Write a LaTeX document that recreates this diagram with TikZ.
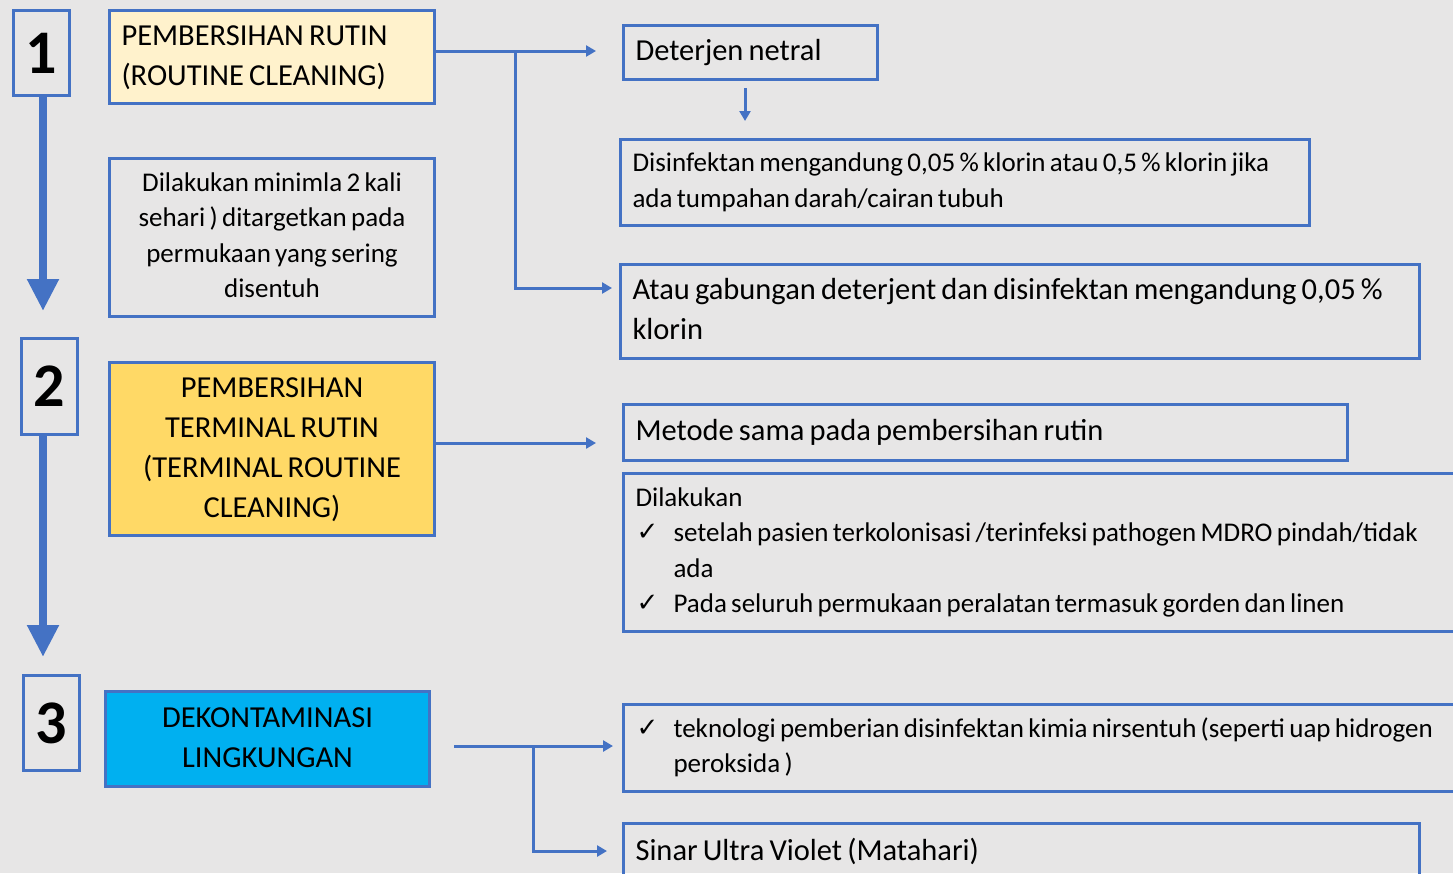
\documentclass[tikz,border=0pt]{standalone}
\usepackage{fontspec}
\setmainfont{Carlito}
\newfontfamily\symf{DejaVu Sans}
\usetikzlibrary{arrows.meta}
\definecolor{bgc}{HTML}{E7E6E6}
\definecolor{bcol}{HTML}{4472C4}
\definecolor{fillA}{HTML}{FFF2CC}
\definecolor{fillB}{HTML}{FFD966}
\definecolor{fillC}{HTML}{00B0F0}
\newcommand{\bigf}{\fontsize{30.5}{40}\selectfont\spaceskip=0.17em\relax}
\newcommand{\smallf}{\fontsize{27}{35.5}\selectfont\spaceskip=0.16em\relax}
\newcommand{\ck}{\makebox[38pt][l]{\hspace{1pt}\raisebox{1pt}{\symf\fontsize{26}{26}\selectfont ✓}}}
\tikzset{
  box/.style={draw=bcol, line width=3pt, anchor=north west, inner xsep=12pt, inner ysep=0pt},
  numbox/.style={box, inner xsep=0pt, font=\bfseries\fontsize{62}{62}\selectfont},
  bigarrow/.style={draw=bcol, line width=8pt, -{Triangle[width=30pt,length=32pt]}},
  conn/.style={draw=bcol, line width=3pt, -{Triangle[width=11pt,length=10pt]}}
}
\begin{document}
\begin{tikzpicture}[x=1pt,y=-1pt]
\useasboundingbox (0,0) rectangle (1453,873);
\fill[bgc] (0,0) rectangle (1453,873);
\clip (0,0) rectangle (1453,873);

% number boxes
\node[numbox, minimum width=56pt, minimum height=85pt] (n1) at (12,9) {1};
\node[numbox, minimum width=56pt, minimum height=96pt] (n2) at (20,337) {2};
\node[numbox, minimum width=56pt, minimum height=95pt] (n3) at (22,674) {3};

\coordinate (e1) at (43,311);
\coordinate (e2) at (43,657);
\draw[bigarrow] (n1.south -| e1) -- (e1);
\draw[bigarrow] (n2.south -| e2) -- (e2);

% left boxes
\node[box, fill=fillA, minimum width=325pt, minimum height=93pt] (a1) at (108,9)
  {\makebox[301pt][l]{\bigf\begin{tabular}{@{}l@{}}PEMBERSIHAN RUTIN\\(ROUTINE CLEANING)\end{tabular}}};
\node[box, minimum width=325pt, minimum height=158pt] (a2) at (108,157)
  {\makebox[301pt][c]{\smallf\begin{tabular}{@{}c@{}}Dilakukan minimla 2 kali\\sehari ) ditargetkan pada\\permukaan yang sering\\disentuh\end{tabular}}};
\node[box, fill=fillB, minimum width=325pt, minimum height=173pt] (b1) at (108,361)
  {\makebox[301pt][c]{\bigf\begin{tabular}{@{}c@{}}PEMBERSIHAN\\TERMINAL RUTIN\\(TERMINAL ROUTINE\\CLEANING)\end{tabular}}};
\node[box, fill=fillC, minimum width=324pt, minimum height=95pt] (c1) at (104,690)
  {\makebox[300pt][c]{\bigf\begin{tabular}{@{}c@{}}DEKONTAMINASI\\LINGKUNGAN\end{tabular}}};

% right boxes
\node[box, minimum width=254pt, minimum height=54pt] (r1) at (622,24)
  {\makebox[230pt][l]{\bigf Deterjen netral}};
\node[box, minimum width=689pt, minimum height=86pt] (r2) at (619,138)
  {\makebox[665pt][l]{\smallf\begin{tabular}{@{}l@{}}Disinfektan mengandung 0,05 \% klorin atau 0,5 \% klorin jika\\ada tumpahan darah/cairan tubuh\end{tabular}}};
\node[box, minimum width=799pt, minimum height=94pt] (r3) at (619,263)
  {\makebox[775pt][l]{\bigf\begin{tabular}{@{}l@{}}Atau gabungan deterjent dan disinfektan mengandung 0,05 \%\\klorin\end{tabular}}};
\node[box, minimum width=724pt, minimum height=56pt] (r4) at (622,403)
  {\makebox[700pt][l]{\bigf Metode sama pada pembersihan rutin}};
\node[box, minimum width=900pt, minimum height=158pt] (r5) at (622,472)
  {\makebox[876pt][l]{\smallf\begin{tabular}{@{}l@{}l@{}}\multicolumn{2}{@{}l@{}}{Dilakukan}\\
   \ck & setelah pasien terkolonisasi /terinfeksi pathogen MDRO pindah/tidak\\
       & ada\\
   \ck & Pada seluruh permukaan peralatan termasuk gorden dan linen\end{tabular}}};
\node[box, minimum width=900pt, minimum height=87pt] (r6) at (622,703)
  {\makebox[876pt][l]{\smallf\begin{tabular}{@{}l@{}l@{}}\ck & teknologi pemberian disinfektan kimia nirsentuh (seperti uap hidrogen\\
       & peroksida )\end{tabular}}};
\node[box, minimum width=796pt, minimum height=56pt] (r7) at (622,822)
  {\makebox[772pt][l]{\bigf Sinar Ultra Violet (Matahari)}};

% connectors
\coordinate (t1) at (596,51);
\coordinate (j1) at (515,51);
\coordinate (t3) at (612,288);
\draw[conn] (a1.east |- t1) -- (t1);
\draw[conn] (j1) |- (t3);

\coordinate (s2) at (745,121);
\draw[conn] ([yshift=-7pt]r1.south -| s2) -- (s2);

\coordinate (t4) at (596,443);
\draw[conn] (b1.east |- t4) -- (t4);

\coordinate (t6) at (613,746);
\coordinate (j3) at (533,746);
\coordinate (t7) at (607,851);
\draw[conn] ([xshift=23pt]c1.east |- t6) -- (t6);
\draw[conn] (j3) |- (t7);
\end{tikzpicture}
\end{document}
